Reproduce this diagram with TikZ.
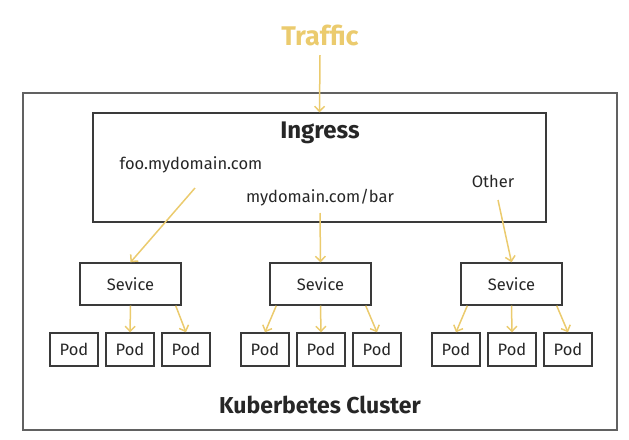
\documentclass[tikz,border=0pt]{standalone}
\usepackage{fontspec}
\setmainfont{Fira Sans}
\usetikzlibrary{arrows.meta}
\definecolor{traffic}{HTML}{EBCB6E}
\definecolor{boxline}{HTML}{3A3A3A}
\tikzset{
    box/.style={draw=boxline,line width=1.4pt,minimum height=42pt,minimum width=101pt,font=\fontsize{16.5}{18}\selectfont,text=black!85},
    podbox/.style={draw=boxline,line width=1.4pt,minimum height=33pt,minimum width=48pt,font=\fontsize{16.5}{18}\selectfont,text=black!85},
    flow/.style={draw=traffic,line width=1.5pt,-{Straight Barb[length=5pt,width=10pt]}},
    label/.style={font=\fontsize{16.5}{18}\selectfont,text=black!85}
}
\begin{document}
\begin{tikzpicture}[x=1pt,y=-1pt]
        \useasboundingbox (0,0) rectangle (629,439);
        \draw[boxline!80,line width=1.4pt] (23,93) rectangle (617,430);
        \node[draw=boxline,line width=1.4pt,minimum width=453pt,minimum height=109pt] (ingress) at (319.5,167.5) {};
        \node[font=\fontsize{27}{30}\selectfont\bfseries,text=traffic] (traffic) at (320,35) {Traffic};
        \node[font=\fontsize{24}{27}\selectfont\bfseries,text=black!85] at (320,133) {Ingress};
        \node[label] (foo) at (191,165) {foo.mydomain.com};
        \node[label] (bar) at (320,198) {mydomain.com/bar};
        \node[label] (other) at (493,181) {Other};
        \node[font=\fontsize{23}{26}\selectfont\bfseries,text=black!85] at (320,405) {Kuberbetes Cluster};
        \coordinate (fooend) at (195,188);
        \coordinate (barend) at (320,213);
        \coordinate (otherend) at (498,200);
        % services
        \node[box] (s1) at (130.5,284) {Sevice};
        \node[box] (s2) at (320.5,284) {Sevice};
        \node[box] (s3) at (511.5,284) {Sevice};
        % pods
        \foreach \x [count=\i] in {74,130,186,265,321,377,456,512,568}
            \node[podbox] (p\i) at (\x,349.5) {Pod};
        % arrows
        \draw[flow] (traffic.south) ++(0,6) -- (ingress.north);
        \draw[flow] (fooend) -- (s1.north);
        \draw[flow] (barend) -- (s2.north);
        \draw[flow] (otherend) -- (s3.north);
        \draw[flow] (s1.south) -- (p2.north);
        \draw[flow] (s1.south east) ++(-6,0) -- (p3.north);
        \draw[flow] (s2.south west) ++(7,0) -- (p4.north);
        \draw[flow] (s2.south) -- (p5.north);
        \draw[flow] (s2.south east) ++(-6,0) -- (p6.north);
        \draw[flow] (s3.south west) ++(7,0) -- (p7.north);
        \draw[flow] (s3.south) -- (p8.north);
        \draw[flow] (s3.south east) ++(-6,0) -- (p9.north);
\end{tikzpicture}
\end{document}
